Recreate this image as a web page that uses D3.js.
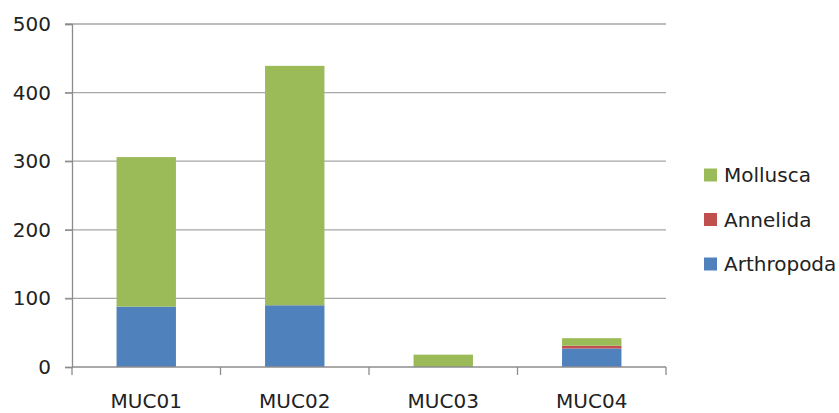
<!DOCTYPE html>
<html><head><meta charset="utf-8">
<script src="https://cdn.jsdelivr.net/npm/d3@7"></script>
<style>body{margin:0;background:#fff}svg{display:block}</style>
</head><body>
<svg id="c" width="839" height="413"></svg>
<script>
const categories = ["MUC01", "MUC02", "MUC03", "MUC04"];
const seriesNames = ["Arthropoda", "Annelida", "Mollusca"];
const arthropoda = [88, 90, 0, 27];
const annelida = [0, 0, 0, 4];
const mollusca = [218, 349, 18, 11];
const yTicks = [0, 100, 200, 300, 400, 500];
const colors = ["#4F81BD", "#C0504D", "#9BBB59"];

(function () {
const rows = categories.map((c, i) => ({cat: c, Arthropoda: arthropoda[i], Annelida: annelida[i], Mollusca: mollusca[i]}));
const stack = d3.stack().keys(seriesNames)(rows);

const svg = d3.select("#c");
const font = "DejaVu Sans, sans-serif";
const pLeft = 72, pRight = 666, pTop = 24, pBottom = 367;

const x = d3.scaleBand().domain(categories).range([pLeft, pRight]).paddingInner(0.6).paddingOuter(0.3);
const y = d3.scaleLinear().domain([0, 500]).range([pBottom, pTop]);

// gridlines
svg.append("g").selectAll("line").data(yTicks.filter(t => t > 0)).join("line")
  .attr("x1", pLeft - 7).attr("x2", pRight).attr("y1", d => y(d)).attr("y2", d => y(d))
  .attr("stroke", "#a6a6a6").attr("stroke-width", 1.3);

// y axis
const yAxis = svg.append("g").attr("transform", `translate(${pLeft},0)`)
  .call(d3.axisLeft(y).tickValues(yTicks).tickSize(7).tickPadding(14));
yAxis.select(".domain").attr("stroke", "#8c8c8c").attr("stroke-width", 1.3);
yAxis.selectAll(".tick line").attr("stroke", "#8c8c8c").attr("stroke-width", 1.3);
yAxis.selectAll("text").attr("font-family", font).attr("font-size", 20).attr("fill", "#222");

// bars
svg.append("g").selectAll("g").data(stack).join("g").attr("fill", (d, i) => colors[i])
  .selectAll("rect").data(d => d).join("rect")
  .attr("x", d => x(d.data.cat)).attr("width", x.bandwidth())
  .attr("y", d => y(d[1])).attr("height", d => y(d[0]) - y(d[1]));

// x axis
const xb = d3.scaleLinear().domain([0, categories.length]).range([pLeft, pRight]);
svg.append("line").attr("x1", pLeft).attr("x2", pRight).attr("y1", pBottom).attr("y2", pBottom)
  .attr("stroke", "#8c8c8c").attr("stroke-width", 1.3);
svg.append("g").selectAll("line").data(d3.range(categories.length + 1)).join("line")
  .attr("x1", d => xb(d)).attr("x2", d => xb(d)).attr("y1", pBottom).attr("y2", pBottom + 8)
  .attr("stroke", "#8c8c8c").attr("stroke-width", 1.3);
svg.append("g").selectAll("text").data(categories).join("text")
  .attr("x", d => x(d) + x.bandwidth() / 2).attr("y", 408)
  .attr("text-anchor", "middle").attr("font-family", font).attr("font-size", 20).attr("fill", "#222")
  .text(d => d);

// legend
const legendOrder = ["Mollusca", "Annelida", "Arthropoda"];
const lg = svg.append("g").selectAll("g").data(legendOrder).join("g")
  .attr("transform", (d, i) => `translate(704,${175 + i * 44.5})`);
lg.append("rect").attr("x", 0).attr("y", -6.5).attr("width", 13).attr("height", 13)
  .attr("fill", d => colors[seriesNames.indexOf(d)]);
lg.append("text").attr("x", 20).attr("y", 7).attr("font-family", font).attr("font-size", 20)
  .attr("fill", "#222").text(d => d);
})();
</script>
</body></html>
